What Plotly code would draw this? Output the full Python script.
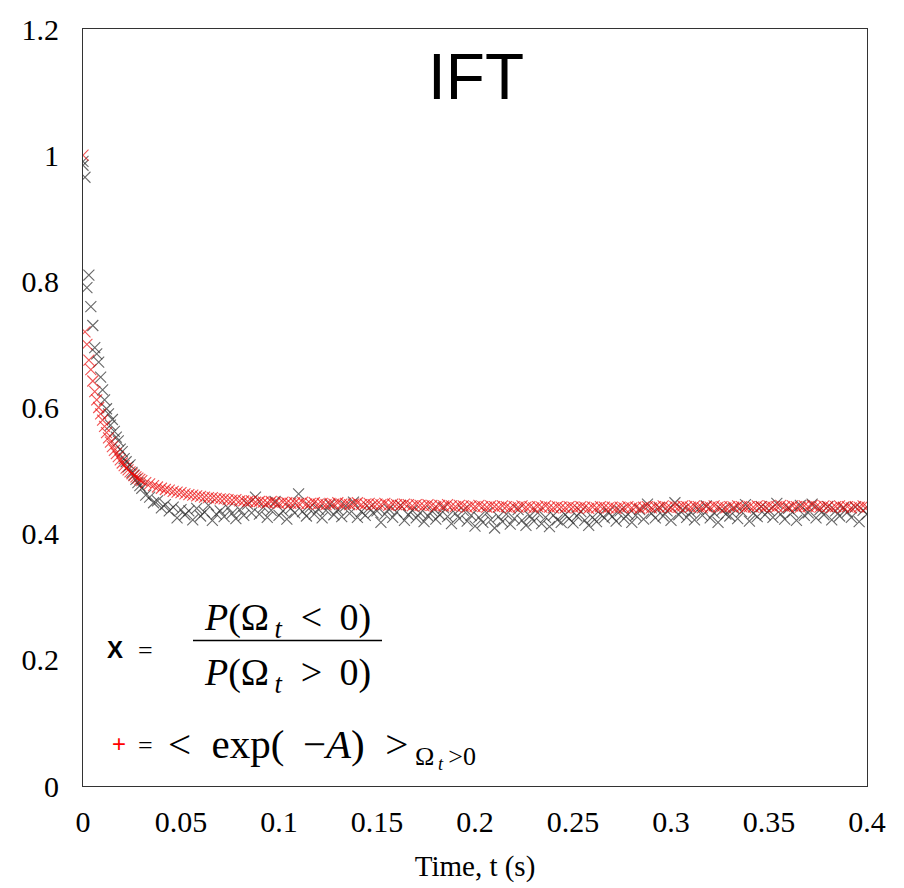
import numpy as np
import plotly.graph_objects as go

# ---------------- data ----------------
t_early = [round(0.001 * i, 3) for i in range(30)]          # 0.000 .. 0.029
t_late = [round(0.030 + 0.002 * i, 3) for i in range(186)]  # 0.030 .. 0.400

black_early = [0.990, 0.965, 0.790, 0.810, 0.760, 0.730, 0.695, 0.685, 0.672, 0.648,
               0.628, 0.612, 0.598, 0.590, 0.572, 0.581, 0.562, 0.553, 0.547, 0.534,
               0.530, 0.519, 0.514, 0.506, 0.509, 0.497, 0.493, 0.486, 0.481, 0.476]
black_extra_t = [0.000]
black_extra = [0.984]

red_early = [1.000, 0.720, 0.700, 0.675, 0.660, 0.642, 0.625, 0.612, 0.600, 0.590,
             0.580, 0.570, 0.560, 0.552, 0.545, 0.538, 0.532, 0.527, 0.522, 0.517,
             0.512, 0.508, 0.504, 0.501, 0.498, 0.495, 0.492, 0.490, 0.488, 0.486]

red_late = [
    0.484, 0.481, 0.479, 0.476, 0.474, 0.472, 0.470, 0.469, 0.467, 0.466,
    0.465, 0.463, 0.462, 0.461, 0.460, 0.459, 0.458, 0.457, 0.457, 0.456,
    0.455, 0.455, 0.454, 0.453, 0.454, 0.452, 0.452, 0.451, 0.452, 0.450,
    0.451, 0.450, 0.449, 0.451, 0.449, 0.448, 0.450, 0.449, 0.448, 0.449,
    0.448, 0.450, 0.447, 0.448, 0.449, 0.447, 0.448, 0.446, 0.448, 0.447,
    0.449, 0.447, 0.448, 0.446, 0.447, 0.449, 0.446, 0.447, 0.448, 0.446,
    0.447, 0.446, 0.448, 0.445, 0.447, 0.446, 0.445, 0.447, 0.446, 0.444,
    0.446, 0.445, 0.444, 0.446, 0.445, 0.443, 0.445, 0.444, 0.446, 0.444,
    0.443, 0.445, 0.444, 0.442, 0.444, 0.443, 0.445, 0.443, 0.442, 0.444,
    0.443, 0.442, 0.444, 0.443, 0.441, 0.443, 0.442, 0.444, 0.442, 0.443,
    0.441, 0.443, 0.442, 0.444, 0.442, 0.441, 0.443, 0.442, 0.441, 0.443,
    0.442, 0.441, 0.443, 0.442, 0.440, 0.442, 0.441, 0.443, 0.442, 0.441,
    0.442, 0.440, 0.442, 0.441, 0.443, 0.441, 0.442, 0.440, 0.442, 0.443,
    0.441, 0.443, 0.442, 0.444, 0.442, 0.441, 0.443, 0.442, 0.444, 0.443,
    0.442, 0.444, 0.443, 0.441, 0.443, 0.442, 0.444, 0.442, 0.443, 0.441,
    0.443, 0.442, 0.444, 0.443, 0.441, 0.443, 0.442, 0.444, 0.443, 0.442,
    0.444, 0.442, 0.443, 0.445, 0.443, 0.442, 0.444, 0.443, 0.442, 0.444,
    0.443, 0.445, 0.443, 0.442, 0.444, 0.443, 0.441, 0.443, 0.444, 0.442,
    0.443, 0.441, 0.443, 0.442, 0.444, 0.442]

black_late = [
    0.472, 0.461, 0.458, 0.449, 0.452, 0.441, 0.446, 0.436, 0.442, 0.425,
    0.438, 0.430, 0.436, 0.422, 0.440, 0.428, 0.434, 0.445, 0.421, 0.431,
    0.436, 0.427, 0.441, 0.432, 0.424, 0.438, 0.429, 0.447, 0.433, 0.458,
    0.431, 0.442, 0.426, 0.437, 0.451, 0.429, 0.436, 0.423, 0.440, 0.433,
    0.463, 0.435, 0.428, 0.442, 0.431, 0.439, 0.425, 0.437, 0.446, 0.430,
    0.438, 0.427, 0.444, 0.432, 0.450, 0.426, 0.435, 0.429, 0.441, 0.433,
    0.436, 0.418, 0.431, 0.439, 0.426, 0.434, 0.445, 0.421, 0.430, 0.437,
    0.425, 0.433, 0.419, 0.428, 0.436, 0.423, 0.430, 0.441, 0.427, 0.416,
    0.432, 0.424, 0.437, 0.420, 0.429, 0.412, 0.426, 0.418, 0.433, 0.422,
    0.409, 0.427, 0.419, 0.431, 0.415, 0.424, 0.438, 0.421, 0.413, 0.428,
    0.420, 0.433, 0.416, 0.426, 0.411, 0.429, 0.422, 0.418, 0.430, 0.424,
    0.417, 0.428, 0.435, 0.421, 0.413, 0.426, 0.419, 0.431, 0.425, 0.434,
    0.427, 0.420, 0.436, 0.424, 0.431, 0.418, 0.429, 0.438, 0.423, 0.447,
    0.432, 0.425, 0.441, 0.428, 0.436, 0.421, 0.449, 0.430, 0.438, 0.426,
    0.434, 0.422, 0.439, 0.429, 0.444, 0.425, 0.433, 0.418, 0.437, 0.431,
    0.428, 0.440, 0.424, 0.435, 0.446, 0.420, 0.432, 0.427, 0.443, 0.430,
    0.437, 0.426, 0.448, 0.431, 0.423, 0.440, 0.434, 0.421, 0.445, 0.429,
    0.433, 0.447, 0.425, 0.438, 0.430, 0.443, 0.422, 0.436, 0.428, 0.441,
    0.434, 0.426, 0.442, 0.419, 0.437, 0.431]

x_ticks = [0, 0.05, 0.1, 0.15, 0.2, 0.25, 0.3, 0.35, 0.4]
x_tick_labels = ["0", "0.05", "0.1", "0.15", "0.2", "0.25", "0.3", "0.35", "0.4"]
y_ticks = [0, 0.2, 0.4, 0.6, 0.8, 1.0, 1.2]
y_tick_labels = ["0", "0.2", "0.4", "0.6", "0.8", "1", "1.2"]

# ---------------- figure ----------------
W, H = 904, 888
L, R, T, B = 83, 867, 26, 786

black_x = black_extra_t + t_early + t_late
black_y = black_extra + black_early + black_late
red_x = t_early + t_late
red_y = red_early + red_late

fig = go.Figure()
fig.add_trace(go.Scatter(
    x=black_x, y=black_y, mode="markers",
    marker=dict(symbol="x-thin", size=11, color="rgba(0,0,0,0)",
                line=dict(color="rgba(40,40,40,0.7)", width=1.1)),
    showlegend=False, hoverinfo="skip"))
fig.add_trace(go.Scatter(
    x=red_x, y=red_y, mode="markers",
    marker=dict(symbol="x-thin", size=11, color="rgba(0,0,0,0)",
                line=dict(color="rgba(235,10,10,0.7)", width=1.1)),
    showlegend=False, hoverinfo="skip"))

serif = "Liberation Serif"
sans = "Liberation Sans"

def px(x):
    return (x - L) / (R - L)

def py(y):
    return (B - y) / (B - T)

sp = "\u2002"   # en space
th = "\u2009"   # thin space

annotations = [
    dict(text="IFT", x=px(476), y=py(74), font=dict(family=sans, size=64, color="black")),
    dict(text="<b>X</b>", x=px(115), y=py(649), font=dict(family=sans, size=24, color="black")),
    dict(text="=", x=px(145), y=py(650), font=dict(family=serif, size=26, color="black")),
    dict(text="<i>P</i>(Ω<sub>" + th + "<i>t</i></sub>" + sp + "&lt;" + th + " 0)",
         x=px(287), y=py(619), font=dict(family=serif, size=38, color="black")),
    dict(text="<i>P</i>(Ω<sub>" + th + "<i>t</i></sub>" + sp + "&gt;" + th + " 0)",
         x=px(287), y=py(675), font=dict(family=serif, size=38, color="black")),
    dict(text="+", x=px(119), y=py(743), font=dict(family=sans, size=24, color="red")),
    dict(text="=", x=px(145), y=py(745), font=dict(family=serif, size=26, color="black")),
    dict(text="&lt;" + sp + "exp(" + th + " −<i>A</i>)" + sp + "&gt;", x=px(166), y=py(744),
         xanchor="left", font=dict(family=serif, size=41, color="black")),
    dict(text="Ω<sub>" + th + "<i>t</i></sub>" + th + "&gt;0", x=px(413), y=py(758), xanchor="left",
         font=dict(family=serif, size=26, color="black")),
]
for a in annotations:
    a.setdefault("xanchor", "center")
    a.update(xref="paper", yref="paper", yanchor="middle", showarrow=False)

fig.update_layout(
    width=W, height=H,
    margin=dict(l=L, r=W - R, t=T, b=H - B, pad=0),
    paper_bgcolor="white", plot_bgcolor="white",
    annotations=annotations,
    shapes=[dict(type="line", xref="paper", yref="paper",
                 x0=px(193), x1=px(382), y0=py(640), y1=py(640),
                 line=dict(color="black", width=1.5))],
    font=dict(family=serif, size=26, color="black"),
)
fig.update_xaxes(
    range=[0, 0.4], tickvals=x_ticks, ticktext=x_tick_labels,
    showgrid=False, zeroline=False, showline=True, mirror=True,
    linecolor="#333", linewidth=1, ticks="", ticklabelstandoff=9,
    tickfont=dict(family=serif, size=30, color="black"),
    title=dict(text="Time, t (s)", font=dict(family=serif, size=29, color="black"), standoff=18),
)
fig.update_yaxes(
    range=[0, 1.2], tickvals=y_ticks, ticktext=y_tick_labels,
    showgrid=False, zeroline=False, showline=True, mirror=True,
    linecolor="#333", linewidth=1, ticks="", ticklabelstandoff=17,
    tickfont=dict(family=serif, size=30, color="black"),
)

fig.write_html("out.html")
